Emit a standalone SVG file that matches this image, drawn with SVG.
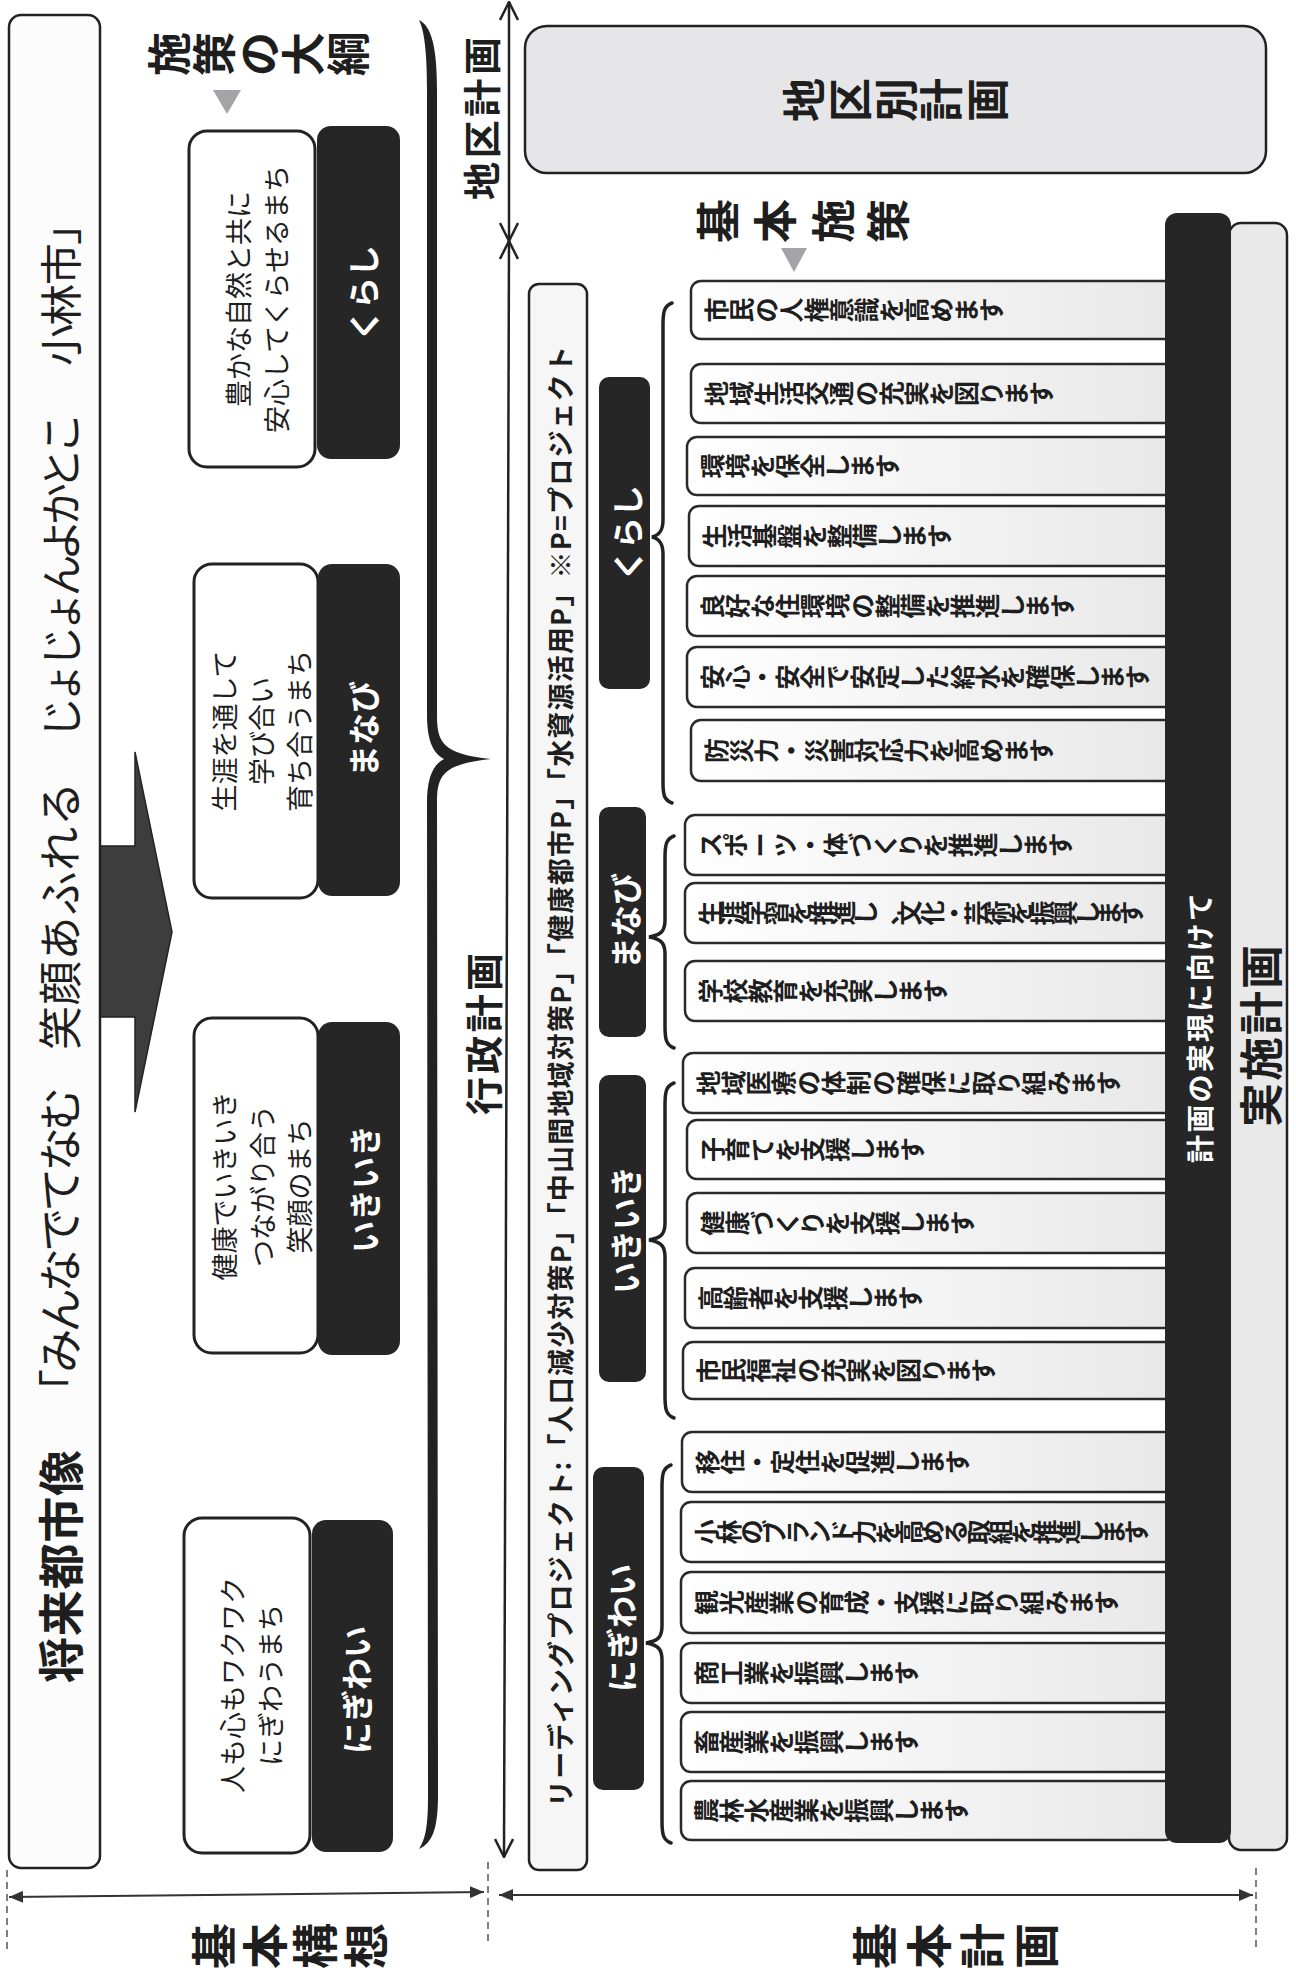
<svg xmlns="http://www.w3.org/2000/svg" width="1296" height="1971" viewBox="0 0 1296 1971">
<defs>
<style>
text{font-family:"Noto Sans CJK JP","Noto Sans",sans-serif;fill:#1e1e1e}
.b{font-weight:700}
.wbox{fill:#fff;stroke:#222;stroke-width:3}
.kbox{fill:#262626}
.item{fill:url(#ig);stroke:#2a2a2a;stroke-width:2.5}
.it{font-size:25px;font-weight:700}
.lab{font-size:32px;font-weight:700;fill:#fff}
.mt{font-size:27px}
.tri{fill:#a4a4a8}
.dash{stroke:#555;stroke-width:1.5;stroke-dasharray:7 5;fill:none}
.brace{fill:none;stroke:#222;stroke-width:3.5;stroke-linecap:round}
.dim{stroke:#333;stroke-width:2;fill:none}
.vline{stroke:#222;stroke-width:2.5;fill:none}
</style>
<linearGradient id="ig" x1="0" y1="0" x2="1" y2="0"><stop offset="0" stop-color="#ffffff"/><stop offset="1" stop-color="#e8e8e8"/></linearGradient>
<marker id="chev" viewBox="0 0 20 20" markerWidth="20" markerHeight="20" refX="19" refY="10" orient="auto-start-reverse" markerUnits="userSpaceOnUse"><path d="M1,1 L19,10 L1,19" fill="none" stroke="#222" stroke-width="2.5"/></marker>
<marker id="tri" viewBox="0 0 14 12" markerWidth="14" markerHeight="12" refX="14" refY="6" orient="auto-start-reverse" markerUnits="userSpaceOnUse"><path d="M0,0 L14,6 L0,12 Z" fill="#333"/></marker>
</defs>
<rect width="1296" height="1971" fill="#fff"/>

<!-- connectors -->
<g id="connectors">
  <polygon points="100,846 135,846 135,752 172,932 135,1112 135,1017 100,1017" fill="#3d3d3d" stroke="#222" stroke-width="1.5"/>
  <path d="M419 20 C431 26,437 45,437 90 L437 715 C437 742,442 754,491 759 C442 764,437 776,437 803 L438 1795 C438 1830,432 1843,419 1849 C426 1838,428 1825,428 1795 L427 803 C427 780,432 765,444 759 C432 753,427 738,427 715 L427 90 C427 50,424 30,419 20 Z" fill="#222"/>
  <line class="vline" x1="509" y1="2" x2="509" y2="241" marker-start="url(#chev)" marker-end="url(#chev)"/>
  <line class="vline" x1="509" y1="241" x2="504" y2="1857" marker-start="url(#chev)" marker-end="url(#chev)"/>
  <polygon class="tri" points="213,90 241,90 227,114"/>
  <polygon class="tri" points="781,248 807,248 794,272"/>
  <path class="brace" d="M672 303 C664 306,663 312,663 325 L663 520 C663 530,660 535,652 537 C660 539,663 544,663 554 L663 782 C663 795,664 800,672 803"/>
  <path class="brace" d="M674 836 C666 839,665 845,665 858 L665 920 C665 930,662 935,649 937 C662 939,665 944,665 954 L665 1026 C665 1039,666 1045,674 1048"/>
  <path class="brace" d="M674 1083 C666 1086,665 1092,665 1105 L665 1223 C665 1233,662 1238,649 1240 C662 1242,665 1247,665 1257 L665 1396 C665 1409,666 1415,674 1418"/>
  <path class="brace" d="M671 1465 C663 1468,662 1474,662 1487 L662 1626 C662 1636,659 1641,646 1643 C659 1645,662 1650,662 1660 L662 1821 C662 1834,663 1840,671 1843"/>
  <line class="dash" x1="7" y1="1870" x2="7" y2="1952"/>
  <line class="dash" x1="488" y1="1862" x2="488" y2="1942"/>
  <line class="dash" x1="1256" y1="1868" x2="1256" y2="1950"/>
  <line class="dim" x1="9" y1="1897" x2="484" y2="1892" marker-start="url(#tri)" marker-end="url(#tri)"/>
  <line class="dim" x1="499" y1="1895" x2="1253" y2="1895" marker-start="url(#tri)" marker-end="url(#tri)"/>
</g>

<!-- future city image -->
<g id="vision">
  <rect x="9" y="15" width="91" height="1853" rx="12" fill="#fcfcfc" stroke="#222" stroke-width="2.5"/>
  <text class="b" font-size="46" transform="translate(58,1683) rotate(-90)" dominant-baseline="central" textLength="233" lengthAdjust="spacing">将来都市像</text>
  <text font-size="44" transform="translate(58,1413) rotate(-90)" dominant-baseline="central" textLength="326" lengthAdjust="spacing">「みんなでてなむ</text>
  <text font-size="44" transform="translate(58,1050) rotate(-90)" dominant-baseline="central" textLength="268" lengthAdjust="spacing">笑顔あふれる</text>
  <text font-size="42" transform="translate(58,739) rotate(-90)" dominant-baseline="central" textLength="327" lengthAdjust="spacing">じょじょんよかとこ</text>
  <text font-size="42" transform="translate(58,366) rotate(-90)" dominant-baseline="central" textLength="163" lengthAdjust="spacing">小林市」</text>
</g>

<g id="title-shisaku-taiko">
  <text class="b" font-size="44" x="186" y="76" rotate="-90" textLength="223" lengthAdjust="spacing">施策の大綱</text>
</g>

<!-- outline nodes -->
<g id="outline-kurashi">
  <rect class="wbox" x="189" y="131" width="126" height="336" rx="18"/>
  <text class="mt" text-anchor="middle" dominant-baseline="central" transform="translate(237,299) rotate(-90)">豊かな自然と共に</text>
  <text class="mt" text-anchor="middle" dominant-baseline="central" transform="translate(275,299) rotate(-90)">安心してくらせるまち</text>
  <rect class="kbox" x="317" y="126" width="83" height="333" rx="14"/>
  <text class="lab" text-anchor="middle" dominant-baseline="central" transform="translate(362,293) rotate(-90)">くらし</text>
</g>
<g id="outline-manabi">
  <rect class="wbox" x="194" y="564" width="124" height="334" rx="18"/>
  <text class="mt" text-anchor="middle" dominant-baseline="central" transform="translate(223,731) rotate(-90)">生涯を通して</text>
  <text class="mt" text-anchor="middle" dominant-baseline="central" transform="translate(260,731) rotate(-90)">学び合い</text>
  <text class="mt" text-anchor="middle" dominant-baseline="central" transform="translate(298,731) rotate(-90)">育ち合うまち</text>
  <rect class="kbox" x="318" y="564" width="82" height="332" rx="14"/>
  <text class="lab" text-anchor="middle" dominant-baseline="central" transform="translate(362,729) rotate(-90)">まなび</text>
</g>
<g id="outline-ikiiki">
  <rect class="wbox" x="194" y="1018" width="124" height="335" rx="18"/>
  <text class="mt" text-anchor="middle" dominant-baseline="central" transform="translate(223,1186) rotate(-90)">健康でいきいき</text>
  <text class="mt" text-anchor="middle" dominant-baseline="central" transform="translate(261,1186) rotate(-90)">つながり合う</text>
  <text class="mt" text-anchor="middle" dominant-baseline="central" transform="translate(298,1186) rotate(-90)">笑顔のまち</text>
  <rect class="kbox" x="318" y="1022" width="82" height="333" rx="14"/>
  <text class="lab" text-anchor="middle" dominant-baseline="central" transform="translate(363,1189) rotate(-90)">いきいき</text>
</g>
<g id="outline-nigiwai">
  <rect class="wbox" x="184" y="1518" width="126" height="335" rx="18"/>
  <text class="mt" text-anchor="middle" dominant-baseline="central" transform="translate(231,1685) rotate(-90)">人も心もワクワク</text>
  <text class="mt" text-anchor="middle" dominant-baseline="central" transform="translate(269,1685) rotate(-90)">にぎわうまち</text>
  <rect class="kbox" x="312" y="1520" width="81" height="332" rx="14"/>
  <text class="lab" text-anchor="middle" dominant-baseline="central" transform="translate(355,1690) rotate(-90)">にぎわい</text>
</g>

<g id="label-chiku-keikaku">
  <text class="b" font-size="38" dominant-baseline="central" transform="translate(479,200) rotate(-90)" textLength="163" lengthAdjust="spacing">地区計画</text>
</g>
<g id="label-gyosei-keikaku">
  <text class="b" font-size="38" dominant-baseline="central" transform="translate(481,1115) rotate(-90)" textLength="162" lengthAdjust="spacing">行政計画</text>
</g>

<g id="district-plan">
  <rect x="525" y="26" width="741" height="147" rx="22" fill="#e6e6e8" stroke="#222" stroke-width="2.5"/>
  <text class="b" font-size="44" x="821" y="122" rotate="-90" textLength="227" lengthAdjust="spacing">地区別計画</text>
</g>

<g id="title-kihon-shisaku">
  <text class="b" font-size="44" x="735 792 850 905" y="243" rotate="-90">基本施策</text>
</g>

<g id="leading-project">
  <rect x="529" y="284" width="58" height="1586" rx="10" fill="#f6f6f6" stroke="#222" stroke-width="2.5"/>
  <text class="b" font-size="27" dominant-baseline="central" transform="translate(559,1807) rotate(-90)" textLength="1461" lengthAdjust="spacing">リーディングプロジェクト:「人口減少対策P」「中山間地域対策P」「健康都市P」「水資源活用P」※P=プロジェクト</text>
</g>

<g id="cat-kurashi">
  <rect class="kbox" x="599" y="377" width="51" height="312" rx="10"/>
  <text class="lab" text-anchor="middle" dominant-baseline="central" transform="translate(626,533) rotate(-90)">くらし</text>
</g>
<g id="cat-manabi">
  <rect class="kbox" x="599" y="807" width="47" height="230" rx="10"/>
  <text class="lab" text-anchor="middle" dominant-baseline="central" transform="translate(624,921) rotate(-90)">まなび</text>
</g>
<g id="cat-ikiiki">
  <rect class="kbox" x="599" y="1075" width="47" height="307" rx="10"/>
  <text class="lab" text-anchor="middle" dominant-baseline="central" transform="translate(624,1230) rotate(-90)">いきいき</text>
</g>
<g id="cat-nigiwai">
  <rect class="kbox" x="593" y="1467" width="51" height="323" rx="10"/>
  <text class="lab" text-anchor="middle" dominant-baseline="central" transform="translate(620,1628) rotate(-90)">にぎわい</text>
</g>

<!-- basic measures -->
<g id="item-01"><rect class="item" x="691" y="281" width="484" height="58" rx="10"/><text class="it" x="726" y="322.5" rotate="-90">市民の人権意識を高めます</text></g>
<g id="item-02"><rect class="item" x="691" y="364" width="484" height="59" rx="10"/><text class="it" x="726" y="406" rotate="-90">地域生活交通の充実を図ります</text></g>
<g id="item-03"><rect class="item" x="687" y="437" width="488" height="58" rx="10"/><text class="it" x="722" y="478.5" rotate="-90">環境を保全します</text></g>
<g id="item-04"><rect class="item" x="689" y="506" width="486" height="60" rx="10"/><text class="it" x="724" y="548.5" rotate="-90">生活基盤を整備します</text></g>
<g id="item-05"><rect class="item" x="687" y="576" width="488" height="60" rx="10"/><text class="it" x="722" y="618.5" rotate="-90">良好な住環境の整備を推進します</text></g>
<g id="item-06"><rect class="item" x="687" y="647" width="488" height="60" rx="10"/><text class="it" x="722" y="689.5" rotate="-90">安心・安全で安定した給水を確保します</text></g>
<g id="item-07"><rect class="item" x="691" y="720" width="484" height="61" rx="10"/><text class="it" x="726" y="763" rotate="-90">防災力・災害対応力を高めます</text></g>
<g id="item-08"><rect class="item" x="685" y="815" width="490" height="60" rx="10"/><text class="it" x="720" y="857.5" rotate="-90">スポーツ・体づくりを推進します</text></g>
<g id="item-09"><rect class="item" x="685" y="883" width="490" height="60" rx="10"/><text class="it" x="720" y="925.5" rotate="-90" textLength="446" lengthAdjust="spacing">生涯学習を推進し、文化・芸術を振興します</text></g>
<g id="item-10"><rect class="item" x="685" y="961" width="490" height="60" rx="10"/><text class="it" x="720" y="1003.5" rotate="-90">学校教育を充実します</text></g>
<g id="item-11"><rect class="item" x="683" y="1053" width="492" height="60" rx="10"/><text class="it" x="718" y="1095.5" rotate="-90">地域医療の体制の確保に取り組みます</text></g>
<g id="item-12"><rect class="item" x="687" y="1120" width="488" height="59" rx="10"/><text class="it" x="722" y="1162" rotate="-90">子育てを支援します</text></g>
<g id="item-13"><rect class="item" x="687" y="1193" width="488" height="60" rx="10"/><text class="it" x="722" y="1235.5" rotate="-90">健康づくりを支援します</text></g>
<g id="item-14"><rect class="item" x="685" y="1268" width="490" height="60" rx="10"/><text class="it" x="720" y="1310.5" rotate="-90">高齢者を支援します</text></g>
<g id="item-15"><rect class="item" x="683" y="1342" width="492" height="57" rx="10"/><text class="it" x="718" y="1383" rotate="-90">市民福祉の充実を図ります</text></g>
<g id="item-16"><rect class="item" x="682" y="1432" width="493" height="60" rx="10"/><text class="it" x="717" y="1474.5" rotate="-90">移住・定住を促進します</text></g>
<g id="item-17"><rect class="item" x="681" y="1502" width="494" height="60" rx="10"/><text class="it" x="716" y="1544.5" rotate="-90" textLength="455" lengthAdjust="spacing">小林のブランド力を高める取組を推進します</text></g>
<g id="item-18"><rect class="item" x="681" y="1572" width="494" height="61" rx="10"/><text class="it" x="716" y="1615" rotate="-90">観光産業の育成・支援に取り組みます</text></g>
<g id="item-19"><rect class="item" x="681" y="1643" width="494" height="60" rx="10"/><text class="it" x="716" y="1685.5" rotate="-90">商工業を振興します</text></g>
<g id="item-20"><rect class="item" x="681" y="1712" width="494" height="60" rx="10"/><text class="it" x="716" y="1754.5" rotate="-90">畜産業を振興します</text></g>
<g id="item-21"><rect class="item" x="681" y="1781" width="494" height="59" rx="10"/><text class="it" x="716" y="1823" rotate="-90">農林水産業を振興します</text></g>

<g id="implementation-plan">
  <rect x="1229" y="223" width="58" height="1627" rx="12" fill="#e9e9ea" stroke="#222" stroke-width="2.5"/>
  <text class="b" font-size="44" dominant-baseline="central" transform="translate(1259,1127) rotate(-90)" textLength="182" lengthAdjust="spacing">実施計画</text>
</g>
<g id="realization">
  <rect class="kbox" x="1165" y="213" width="66" height="1630" rx="12"/>
  <text class="b" font-size="28" style="fill:#fff" dominant-baseline="central" transform="translate(1199,1163) rotate(-90)" textLength="270" lengthAdjust="spacing">計画の実現に向けて</text>
</g>

<g id="label-kihon-koso">
  <text class="b" font-size="46" x="231" y="1969" rotate="-90" textLength="198" lengthAdjust="spacing">基本構想</text>
</g>
<g id="label-kihon-keikaku">
  <text class="b" font-size="46" x="892" y="1969" rotate="-90" textLength="207" lengthAdjust="spacing">基本計画</text>
</g>
</svg>
